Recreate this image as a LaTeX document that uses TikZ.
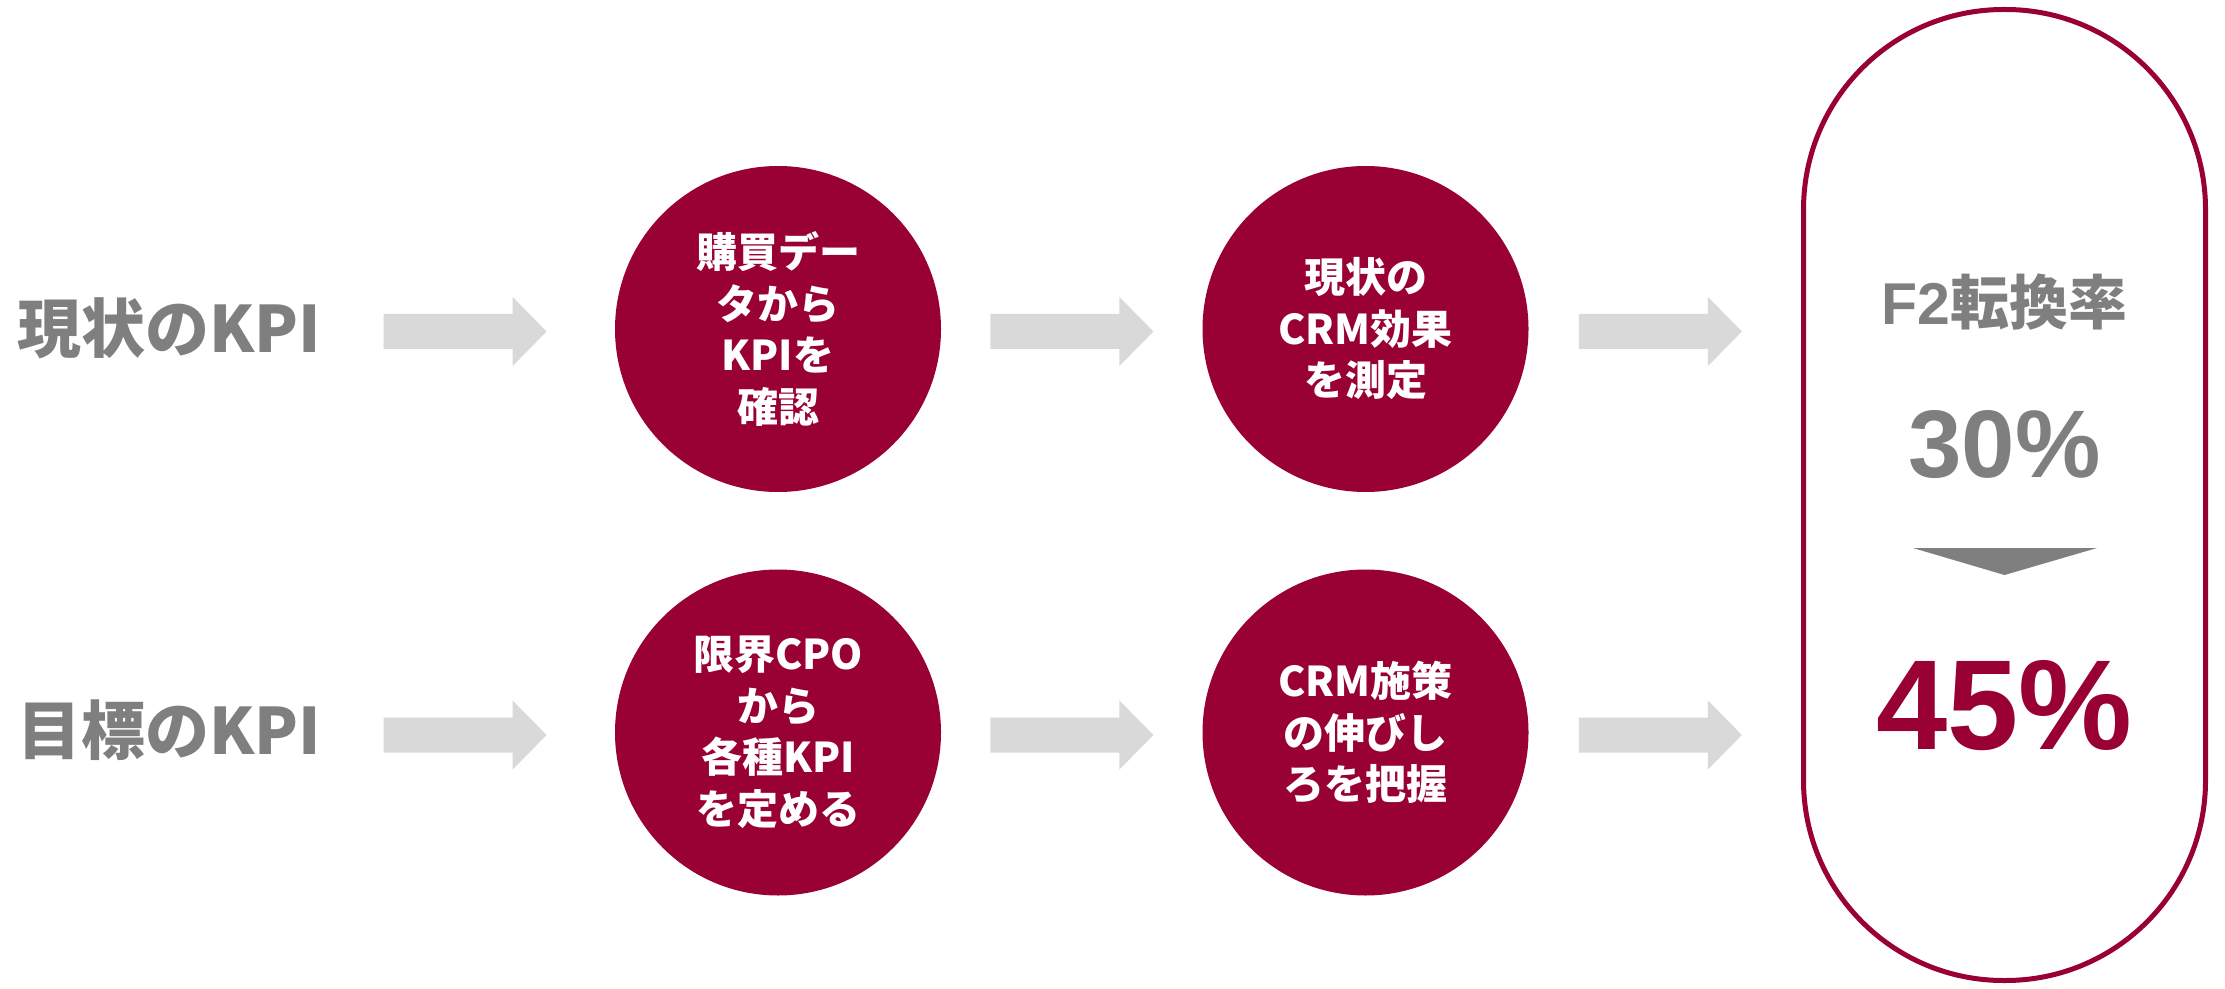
\documentclass[tikz,border=0pt]{standalone}
\usepackage{fontspec}
\newfontfamily\jp{Noto Sans CJK JP}
\newfontfamily\arl{Liberation Sans}
\definecolor{crim}{HTML}{990033}
\definecolor{txtgray}{HTML}{7F7F7F}
\definecolor{arrgray}{HTML}{D9D9D9}
\begin{document}
\begin{tikzpicture}[x=0.5pt,y=-0.5pt,
  stepcircle/.style={circle, fill=crim, minimum size=163pt, inner sep=0pt, text=white, align=center,
    font=\jp\bfseries\fontsize{20.5}{25.75}\selectfont},
  kpilabel/.style={anchor=base, text=txtgray, inner sep=0pt, font=\jp\bfseries\fontsize{32}{40}\selectfont},
  blockarr/.pic={\fill[arrgray] (0,-17.5) -- (129,-17.5) -- (129,-34.5) -- (163,0) -- (129,34.5) -- (129,17.5) -- (0,17.5) -- cycle;},
  pillbox/.style={draw=crim, line width=2.5pt, rounded corners=100pt, minimum width=201pt, minimum height=485.5pt, inner sep=0pt},
  pilltext/.style={anchor=base, inner sep=0pt}
]
\fill[white] (0,0) rectangle (2225,989);
\useasboundingbox (0,0) rectangle (2225,989);

% left labels
\node[kpilabel] (lab1) at (169,352) {現状のKPI};
\node[kpilabel] (lab2) at (169,754) {目標のKPI};

% circles
\node[stepcircle] (c1) at (778,329) {購買デー\\タから\\KPIを\\確認};
\node[stepcircle] (c2) at (1365.5,329) {現状の\\CRM効果\\を測定};
\node[stepcircle] (c3) at (778,732.5) {限界CPO\\から\\各種KPI\\を定める};
\node[stepcircle] (c4) at (1365.5,732.5) {CRM施策\\の伸びし\\ろを把握};

% result pill
\node[pillbox] (pill) at (2004.5,495) {};
\node[pilltext, text=txtgray] (f2) at (2004.5,325) {\arl\bfseries\fontsize{29.5}{36}\selectfont F2\jp\bfseries 転換率};
\node[pilltext, text=txtgray] (p30) at (2004.5,477) {\arl\bfseries\fontsize{48}{56}\selectfont 30\%};
\node[pilltext, text=crim] (p45) at (2004.5,749) {\arl\bfseries\fontsize{64}{74}\selectfont 45\%};
\fill[txtgray] (1913,548) -- (2097,548) -- (2004.5,575) -- cycle;

% block arrows (connectors)
\pic at ([shift={(-231,2.5)}]c1.west) {blockarr};
\pic at ([shift={(49,2.5)}]c1.east) {blockarr};
\pic at ([shift={(50,2.5)}]c2.east) {blockarr};
\pic at ([shift={(-231,2.5)}]c3.west) {blockarr};
\pic at ([shift={(49,2.5)}]c3.east) {blockarr};
\pic at ([shift={(50,2.5)}]c4.east) {blockarr};
\end{tikzpicture}
\end{document}
